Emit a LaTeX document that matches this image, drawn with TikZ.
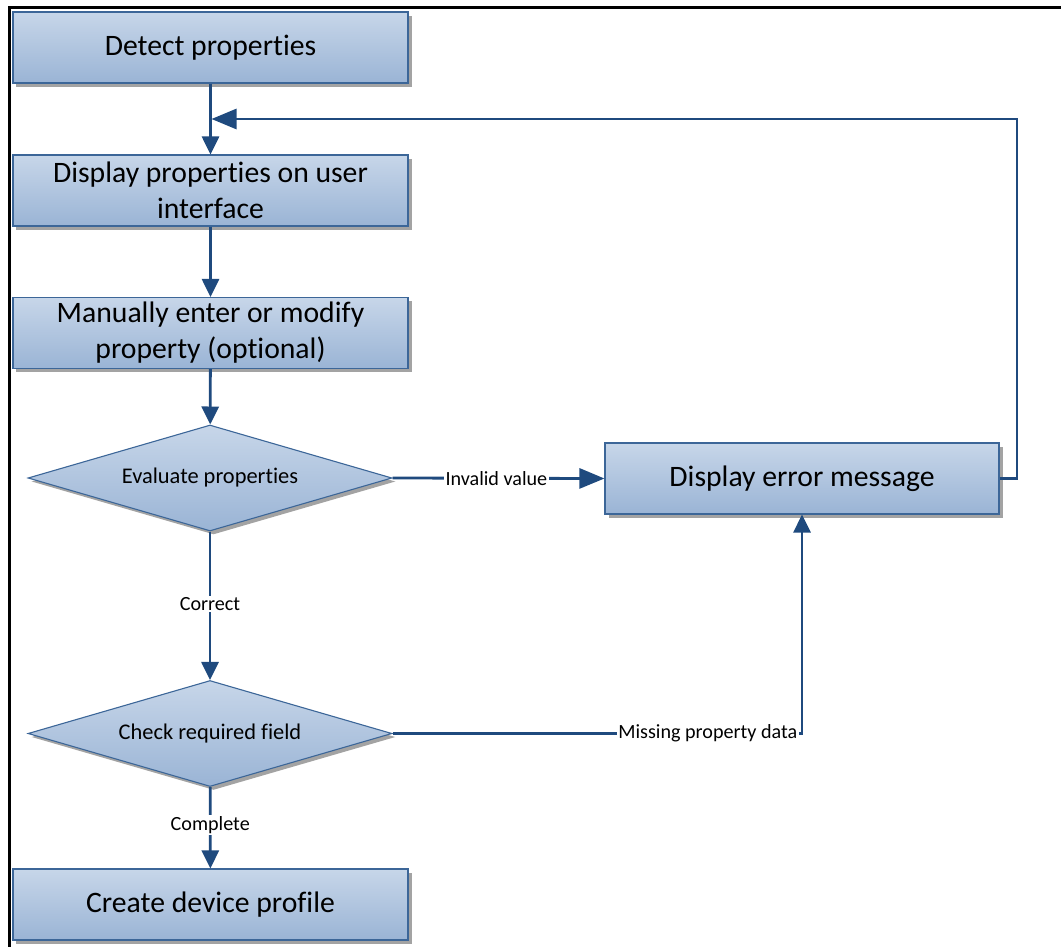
\documentclass[tikz,border=0pt]{standalone}
\usepackage{fontspec}
\setmainfont{Carlito}[RawFeature=-liga, RawFeature=-calt]
\usetikzlibrary{arrows.meta,shapes.geometric,shadows}
\definecolor{boxtop}{HTML}{C7D6E9}
\definecolor{boxbot}{HTML}{9AB4D5}
\definecolor{boxline}{HTML}{3C6698}
\definecolor{flowblue}{HTML}{1F4A7E}
\begin{document}
\begin{tikzpicture}[x=1bp,y=-1bp,
  shadowed/.style={drop shadow={shadow xshift=3.5bp, shadow yshift=-3.5bp, fill=black!40, opacity=0.9}},
  stepbox/.style={rectangle, draw=boxline, line width=1.1bp, top color=boxtop, bottom color=boxbot,
    minimum width=395bp, minimum height=71bp, inner sep=0pt, align=center,
    font=\fontsize{29.8}{36}\selectfont, shadowed},
  decision/.style={diamond, draw=boxline, line width=1.1bp, top color=boxtop, bottom color=boxbot,
    minimum width=364bp, minimum height=106bp, inner sep=0pt, aspect=3.4,
    font=\fontsize{22.5}{27}\selectfont, shadowed},
  flow/.style={draw=flowblue, line width=2.8bp, -{Triangle[length=18bp,width=17bp]}},
  hflow/.style={draw=flowblue, line width=2.8bp, -{Triangle[length=25bp,width=20bp]}},
  lbl/.style={fill=white, inner sep=1.5bp, font=\fontsize{20.2}{24}\selectfont}
]
\useasboundingbox (0,0) rectangle (1061,947);

% page frame
\draw[line width=3bp] (9,947) -- (9,7) -- (1061,7);

% process steps
\node[stepbox] (detect)  at (210.5,47.5) {Detect properties};
\node[stepbox] (display) at (210.5,190.5) {Display properties on user\\interface};
\node[stepbox] (manual)  at (210.5,333) {Manually enter or modify\\property (optional)};
\node[decision] (eval)   at (210,478) {Evaluate properties};
\node[decision] (check)  at (210,733.5) {Check required field};
\node[stepbox] (create)  at (210.5,904.5) {Create device profile};
\node[stepbox, minimum width=394bp] (error) at (802,478.5) {Display error message};

% loop-back points
\coordinate (join) at (211.5,119);
\coordinate (rturn) at (1017,478.5);
\coordinate (rtop) at (1017,119);
\coordinate (mturn) at (802,733.5);

% connectors
\draw[flow] (detect) -- (display);
\draw[flow] (display) -- (manual);
\draw[flow] (manual) -- (eval);
\draw[flow] (eval) -- node[lbl, pos=0.49] {Correct} (check);
\draw[flow] (check) -- node[lbl, pos=0.47] {Complete} (create);
\draw[hflow] (eval.east) -- node[lbl, pos=0.49] {Invalid value} (error.west);
\draw[flow] (check.east) -- node[lbl, pos=0.77] {Missing property data} (mturn) -- (error.south);
\draw[hflow] (error.east) -- (rturn) -- (rtop) -- (join);
\end{tikzpicture}
\end{document}
